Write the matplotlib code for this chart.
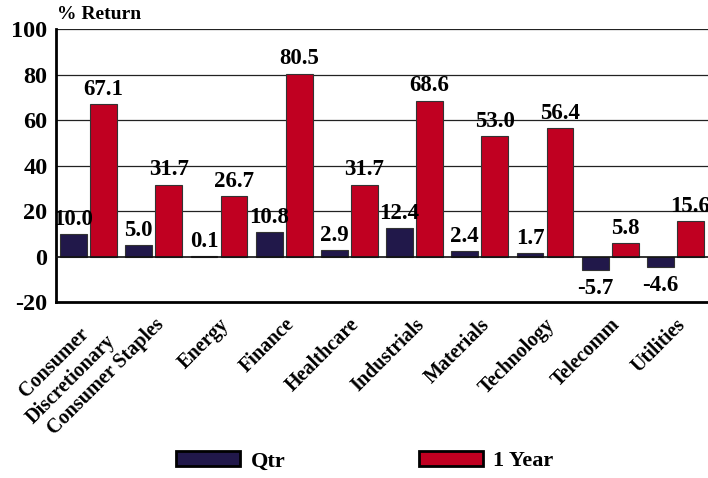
import numpy as np
import matplotlib
matplotlib.use('Agg')
import matplotlib.pyplot as plt
from matplotlib.patches import Patch

plt.rcParams['font.family'] = ['Liberation Serif', 'DejaVu Serif']
plt.rcParams['font.weight'] = 'bold'

sectors = ['Consumer\nDiscretionary', 'Consumer Staples', 'Energy', 'Finance', 'Healthcare',
           'Industrials', 'Materials', 'Technology', 'Telecomm', 'Utilities']
qtr = [10.0, 5.0, 0.1, 10.8, 2.9, 12.4, 2.4, 1.7, -5.7, -4.6]
year1 = [67.1, 31.7, 26.7, 80.5, 31.7, 68.6, 53.0, 56.4, 5.8, 15.6]
yticks = [-20, 0, 20, 40, 60, 80, 100]

navy = '#21184a'
red = '#c00021'

fig = plt.figure(figsize=(7.08, 4.78), dpi=100)
ax = fig.add_axes([0.079, 0.368, 0.921, 0.571])

x = np.arange(len(sectors))
w = 0.41
b1 = ax.bar(x - 0.23, qtr, w, color=navy, edgecolor='#333333', linewidth=0.8, zorder=3)
b2 = ax.bar(x + 0.23, year1, w, color=red, edgecolor='#333333', linewidth=0.8, zorder=3)

for bars, vals in [(b1, qtr), (b2, year1)]:
    for r, v in zip(bars, vals):
        cx = r.get_x() + r.get_width() / 2
        if v >= 0:
            ax.annotate('%.1f' % v, (cx, v), xytext=(0, 3), textcoords='offset points',
                        ha='center', va='bottom', fontsize=16.5, fontweight='bold')
        else:
            ax.annotate('%.1f' % v, (cx, v), xytext=(0, -6), textcoords='offset points',
                        ha='center', va='top', fontsize=16.5, fontweight='bold')

ax.set_xlim(-0.5, 9.5)
ax.set_ylim(-20, 100)
ax.set_yticks(yticks)
ax.set_yticklabels([str(t) for t in yticks], fontsize=17.5, fontweight='bold')
ax.tick_params(axis='y', length=0, pad=6)
ax.set_xticks(x)
ax.set_xticklabels(sectors, rotation=45, ha='right', va='top', rotation_mode='anchor',
                   fontsize=14.5, fontweight='bold', multialignment='center')
ax.tick_params(axis='x', length=0, pad=9)

for t in [20, 40, 60, 80, 100]:
    ax.axhline(t, color='#222222', linewidth=0.9, zorder=1)
ax.axhline(0, color='#111111', linewidth=1.2, zorder=4)

for s in ['top', 'right']:
    ax.spines[s].set_visible(False)
ax.spines['left'].set_linewidth(2)
ax.spines['bottom'].set_linewidth(2)

fig.text(0.081, 0.952, '% Return', fontsize=14, fontweight='bold', ha='left', va='bottom')

handles = [Patch(facecolor=navy, edgecolor='black', linewidth=2, label='Qtr'),
           Patch(facecolor=red, edgecolor='black', linewidth=2, label='1 Year')]
fig.legend(handles=handles, loc='center', bbox_to_anchor=(0.515, 0.035), ncol=2,
           frameon=False, fontsize=16, handlelength=2.9, handleheight=0.68,
           handletextpad=0.45, columnspacing=6.0)

fig.savefig('out.png', dpi=100)
